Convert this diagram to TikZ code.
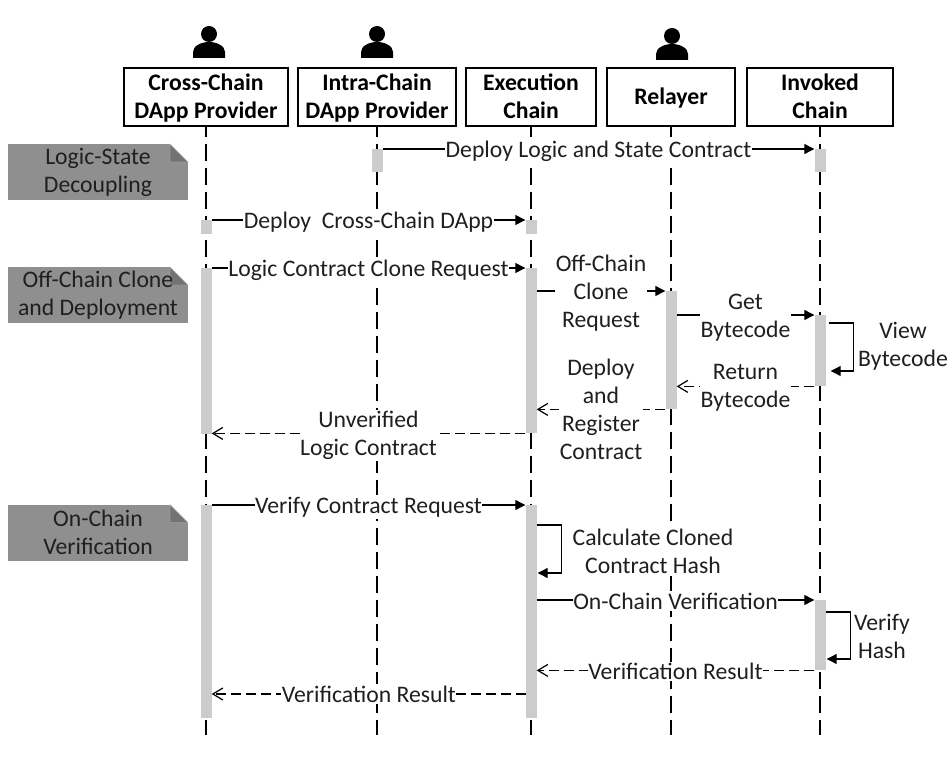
\documentclass[tikz,border=0pt]{standalone}
\usepackage{fontspec}
\setmainfont{Carlito}
\usepackage{xcolor}
\usetikzlibrary{arrows.meta, positioning}

\definecolor{notegray}{gray}{0.56}
\definecolor{foldgray}{gray}{0.45}
\definecolor{bargray}{gray}{0.8}
\definecolor{inkgray}{gray}{0.12}

\tikzset{
    actor/.style={rectangle, draw, line width=1.7pt, fill=white, minimum height=58pt, inner sep=0pt, outer sep=0pt, align=center, text depth=2pt, font=\fontsize{23.7}{28}\selectfont\bfseries},
    lifeline/.style={line width=1.5pt, dash pattern=on 17pt off 7pt, dash phase=6pt},
    bar/.style={rectangle, fill=bargray, minimum width=11pt, inner sep=0pt, anchor=north},
    note/.style={rectangle, fill=notegray, minimum width=180pt, minimum height=56pt, inner sep=0pt, align=center, text=inkgray, font=\fontsize{23.7}{28}\selectfont,
        path picture={
            \fill[white] ([xshift=-18pt]path picture bounding box.north east) -- (path picture bounding box.north east) -- ([yshift=-18pt]path picture bounding box.north east) -- cycle;
            \draw[white!75!black, fill=foldgray] ([xshift=-18pt]path picture bounding box.north east) -- ([yshift=-18pt]path picture bounding box.north east) -- ([xshift=-18pt, yshift=-18pt]path picture bounding box.north east) -- cycle;
        }},
    msg/.style={line width=1.2pt, -{Triangle[length=10pt, width=10pt]}},
    reply/.style={line width=1.2pt, dash pattern=on 10pt off 5pt, -{Straight Barb[length=10pt, width=12pt]}},
    label/.style={fill=white, inner xsep=0.5pt, inner ysep=1.5pt, align=center, text=inkgray, font=\fontsize{23.7}{28}\selectfont},
    user/.pic={
        \fill (0,-24) circle (8);
        \fill (-16,0) -- (-16,-6) .. controls (-16,-12) and (-8,-16) .. (0,-16) .. controls (8,-16) and (16,-12) .. (16,-6) -- (16,0) -- cycle;
    }
}

\begin{document}
\begin{tikzpicture}[x=1pt, y=-1pt]
    \useasboundingbox (0,0) rectangle (952,767);

    % Nodes
    \node (cross) [actor, minimum width=164pt] at (206,97) {Cross-Chain\\DApp Provider};
    \node (intra) [actor, minimum width=158pt, right=10pt of cross] {Intra-Chain\\DApp Provider};
    \node (exec) [actor, minimum width=130pt, right=10pt of intra] {Execution\\Chain};
    \node (relay) [actor, minimum width=128pt, right=11pt of exec] {Relayer};
    \node (invoked) [actor, minimum width=146pt, right=12pt of relay] {Invoked\\Chain};

    % Users
    \pic at (209,58) {user};
    \pic at (377,58) {user};
    \pic at (672,60) {user};

    % Lifelines
    \coordinate (crossend) at (206,735);
    \coordinate (intraend) at (377,735);
    \coordinate (execend) at (531,735);
    \coordinate (relayend) at (671,735);
    \coordinate (invokedend) at (820,735);
    \draw[lifeline] (cross.south) -- (crossend);
    \draw[lifeline] (intra.south) -- (intraend);
    \draw[lifeline] (exec.south) -- (execend);
    \draw[lifeline] (relay.south) -- (relayend);
    \draw[lifeline] (invoked.south) -- (invokedend);

    % Notes
    \node (noteone) [note] at (98,172) {Logic-State\\Decoupling};
    \node (notetwo) [note] at (98,295) {Off-Chain Clone\\and Deployment};
    \node (notethree) [note] at (98,532.5) {On-Chain\\Verification};

    % Activation bars
    \node (intraA) [bar, minimum height=23pt] at (377,149) {};
    \node (invokedA) [bar, minimum height=23pt] at (820,149) {};
    \node (crossA) [bar, minimum height=14pt] at (206,220) {};
    \node (execA) [bar, minimum height=14pt] at (531,220) {};
    \node (crossB) [bar, minimum height=166pt] at (206,268) {};
    \node (execB) [bar, minimum height=165pt] at (531,268) {};
    \node (relayB) [bar, minimum height=118pt] at (671,291) {};
    \node (invokedB) [bar, minimum height=71pt] at (820,315) {};
    \node (crossC) [bar, minimum height=213pt] at (206,505) {};
    \node (execC) [bar, minimum height=213pt] at (531,505) {};
    \node (invokedC) [bar, minimum height=70pt] at (820,600) {};

    % Messages
    \draw[msg] (intraA.north east) -- (invokedA.north west) node[label, midway, yshift=-2pt] {Deploy Logic and State Contract};
    \draw[msg] (crossA.north east) -- (execA.north west) node[label, midway, yshift=-2pt] {Deploy~~Cross-Chain DApp};
    \draw[msg] (crossB.north east) -- (execB.north west) node[label, midway, yshift=-2pt] {Logic Contract Clone Request};
    \draw[msg] (execB.east |- relayB.north) -- (relayB.north west) node[label, midway, yshift=-2pt] {Off-Chain\\Clone\\Request};
    \draw[msg] (relayB.east |- invokedB.north) -- (invokedB.north west) node[label, midway, yshift=-3pt] {Get\\Bytecode};
    \draw[reply] (invokedB.south west) -- (relayB.east |- invokedB.south) node[label, midway, yshift=-1pt] {Return\\Bytecode};
    \draw[reply] (relayB.south west) -- (execB.east |- relayB.south) node[label, midway] {Deploy\\and\\Register\\Contract};
    \draw[reply] (execB.south west) -- (crossB.east |- execB.south) node[label, midway, yshift=-2pt] {Unverified\\Logic Contract};
    \draw[msg] (crossC.north east) -- (execC.north west) node[label, midway, yshift=-2pt] {Verify Contract Request};
    \draw[msg] (execC.east |- invokedC.north) -- (invokedC.north west) node[label, midway, yshift=-1pt] {On-Chain Verification};
    \draw[reply] (invokedC.south west) -- (execC.east |- invokedC.south) node[label, midway, yshift=-1pt] {Verification Result};
    \coordinate (execreply) at (526,694);
    \draw[reply] (execreply) -- (crossC.east |- execreply) node[label, midway] {Verification Result};

    % Self calls
    \draw[msg] ([xshift=3pt,yshift=-8pt]invokedB.north east) -- ++(25,0) -- ++(0,48) -- ++(-23,0);
    \node (viewlabel) [label] at (903,346) {View\\Bytecode};
    \draw[msg] ([yshift=-20pt]execC.north east) -- ++(25,0) -- ++(0,48) -- ++(-24,0);
    \node (calclabel) [label] at (653,551) {Calculate Cloned\\Contract Hash};
    \draw[msg] ([yshift=-12pt]invokedC.north east) -- ++(25,0) -- ++(0,47) -- ++(-24,0);
    \node (hashlabel) [label] at (882,636) {Verify\\Hash};

\end{tikzpicture}
\end{document}
